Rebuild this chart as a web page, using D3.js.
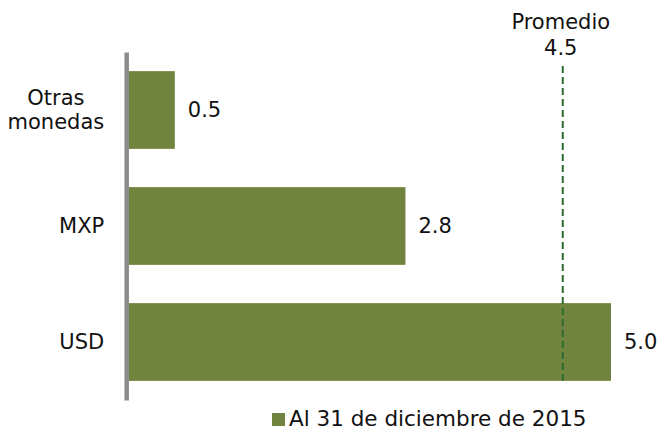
<!DOCTYPE html>
<html>
<head>
<meta charset="utf-8">
<script src="https://cdn.jsdelivr.net/npm/d3@7"></script>
<style>
  body { margin: 0; background: #fff; }
  svg { display: block; font-family: "DejaVu Sans", sans-serif; }
</style>
</head>
<body>
<svg width="666" height="432"></svg>
<script>
// data
var categories = ["Otras monedas", "MXP", "USD"];
var values = [0.48, 2.87, 5.0];
var valueLabels = ["0.5", "2.8", "5.0"];
var average = 4.5;
var seriesName = "Al 31 de diciembre de 2015";

var svg = d3.select("svg"),
    width = 666,
    height = 432;

var barColor = "#71843f";
var textColor = "#111";

var x = d3.scaleLinear()
    .domain([0, 5])
    .range([128.5, 611]);

var y = d3.scaleBand()
    .domain(categories)
    .range([52, 400])
    .paddingInner(0.33)
    .paddingOuter(0.165);

// bars
svg.append("g")
    .selectAll("rect")
    .data(values)
    .enter().append("rect")
    .attr("x", x(0))
    .attr("y", function(d, i) { return y(categories[i]); })
    .attr("width", function(d) { return x(d) - x(0); })
    .attr("height", y.bandwidth())
    .attr("fill", barColor);

// average line
svg.append("line")
    .attr("x1", x(average))
    .attr("x2", x(average))
    .attr("y1", 66)
    .attr("y2", y(categories[2]) + y.bandwidth())
    .attr("stroke", "#2d6a2f")
    .attr("stroke-width", 2)
    .attr("stroke-dasharray", "7,4");

svg.append("text")
    .attr("x", x(average) - 2)
    .attr("y", 28.5)
    .attr("text-anchor", "middle")
    .attr("font-size", 21)
    .attr("fill", textColor)
    .text("Promedio");

svg.append("text")
    .attr("x", x(average) - 2)
    .attr("y", 55)
    .attr("text-anchor", "middle")
    .attr("font-size", 21)
    .attr("fill", textColor)
    .text(d3.format(".1f")(average));

// value labels
svg.append("g")
    .selectAll("text")
    .data(values)
    .enter().append("text")
    .attr("x", function(d) { return x(d) + 13; })
    .attr("y", function(d, i) { return y(categories[i]) + y.bandwidth() / 2; })
    .attr("dy", ".35em")
    .attr("font-size", 21)
    .attr("fill", textColor)
    .text(function(d, i) { return valueLabels[i]; });

// category axis
var yAxis = svg.append("g")
    .attr("transform", "translate(126.2,0)")
    .call(d3.axisLeft(y).tickSize(0).tickPadding(0))
    .attr("font-family", null)
    .attr("font-size", null);

yAxis.select(".domain")
    .attr("stroke", "#8c8c8c")
    .attr("stroke-width", 4.5);

yAxis.selectAll(".tick text").remove();

// labels end 22px left of the axis, wrapped lines centred on each other
yAxis.selectAll(".tick").each(function(d) {
    var words = d.split(" ");
    var t = d3.select(this).append("text")
        .attr("text-anchor", "middle")
        .attr("font-size", 21)
        .attr("fill", textColor);
    var lh = 24;
    var start = -(words.length - 1) * lh / 2;
    var spans = words.map(function(w, k) {
        return t.append("tspan")
            .attr("y", start + k * lh)
            .attr("dy", ".35em")
            .text(w);
    });
    var maxW = d3.max(spans, function(s) { return s.node().getComputedTextLength(); });
    spans.forEach(function(s) { s.attr("x", -22 - maxW / 2); });
});

// legend
var legend = svg.append("g")
    .attr("transform", "translate(272,413)");

legend.append("rect")
    .attr("width", 13)
    .attr("height", 13)
    .attr("fill", barColor);

legend.append("text")
    .attr("x", 17)
    .attr("y", 13)
    .attr("font-size", 21.5)
    .attr("fill", textColor)
    .text(seriesName);
</script>
</body>
</html>
